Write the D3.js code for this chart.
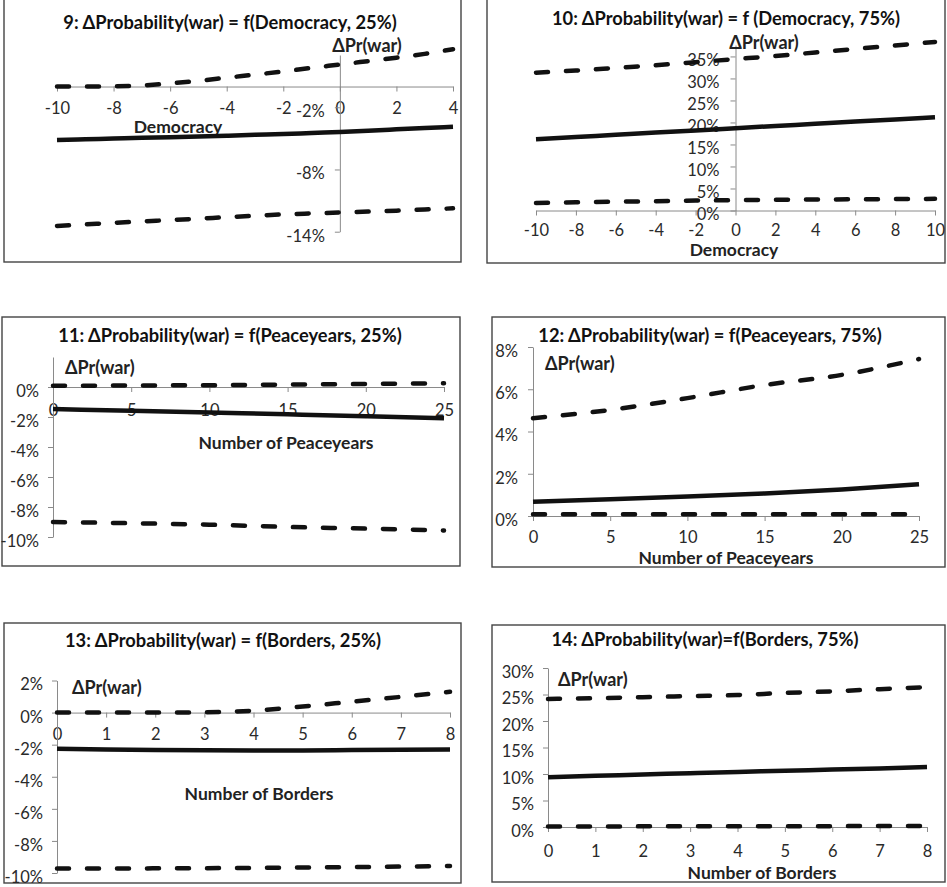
<!DOCTYPE html>
<html><head><meta charset="utf-8">
<script src="https://cdn.jsdelivr.net/npm/d3@7"></script>
<style>body{margin:0;background:#fff}svg{display:block}</style>
</head><body>
<svg id="c" width="947" height="887"></svg>
<script>
// ---------- DATA ----------
const titles = [
  "9: ΔProbability(war) = f(Democracy, 25%)",
  "10: ΔProbability(war) = f (Democracy, 75%)",
  "11: ΔProbability(war) = f(Peaceyears, 25%)",
  "12: ΔProbability(war) = f(Peaceyears, 75%)",
  "13: ΔProbability(war) = f(Borders, 25%)",
  "14: ΔProbability(war)=f(Borders, 75%)"
];
const yAxisTitle = "ΔPr(war)";
const xTitles = ["Democracy", "Democracy", "Number of Peaceyears", "Number of Peaceyears", "Number of Borders", "Number of Borders"];

// Panel 9
const demo9 = [-10,-9,-8,-7,-6,-5,-4,-3,-2,-1,0,1,2,3,4];
const upper9 = [0.0,0.0,0.02,0.1,0.3,0.55,0.85,1.15,1.45,1.8,2.12,2.45,2.78,3.15,3.6];
const effect9 = [-5.15,-5.08,-5.02,-4.95,-4.88,-4.81,-4.74,-4.66,-4.58,-4.48,-4.38,-4.26,-4.13,-4.0,-3.88];
const lower9 = [-13.45,-13.3,-13.15,-13.01,-12.88,-12.74,-12.6,-12.46,-12.33,-12.24,-12.15,-12.06,-11.97,-11.86,-11.75];
const xTicks9 = [-10,-8,-6,-4,-2,0,2,4];
const yTicks9 = [-14,-8,-2];

// Panel 10
const demo10 = [-10,-8,-6,-4,-2,0,2,4,6,8,10];
const upper10 = [31.3,31.8,32.4,33.0,33.7,34.4,35.1,35.9,36.7,37.5,38.3];
const effect10 = [16.2,16.7,17.2,17.7,18.2,18.7,19.2,19.7,20.2,20.7,21.2];
const lower10 = [1.7,1.85,2.0,2.1,2.25,2.35,2.45,2.5,2.55,2.6,2.65];
const xTicks10 = [-10,-8,-6,-4,-2,0,2,4,6,8,10];
const yTicks10 = [0,5,10,15,20,25,30,35];

// Panel 11
const peace11 = [0,5,10,15,20,25];
const upper11 = [0.08,0.1,0.12,0.16,0.2,0.25];
const effect11 = [-1.47,-1.58,-1.7,-1.82,-1.95,-2.09];
const lower11 = [-9.0,-9.08,-9.18,-9.33,-9.44,-9.57];
const xTicks11 = [0,5,10,15,20,25];
const yTicks11 = [-10,-8,-6,-4,-2,0];

// Panel 12
const peace12 = [0,5,10,15,20,25];
const upper12 = [4.63,5.02,5.58,6.2,6.68,7.43];
const effect12 = [0.68,0.79,0.92,1.07,1.26,1.5];
const lower12 = [0.08,0.08,0.08,0.08,0.08,0.08];
const xTicks12 = [0,5,10,15,20,25];
const yTicks12 = [0,2,4,6,8];

// Panel 13
const borders13 = [0,1,2,3,4,5,6,7,8];
const upper13 = [0,0,0,0.02,0.12,0.38,0.68,0.98,1.3];
const effect13 = [-2.26,-2.3,-2.33,-2.35,-2.36,-2.36,-2.34,-2.32,-2.3];
const lower13 = [-9.72,-9.72,-9.71,-9.7,-9.68,-9.66,-9.63,-9.6,-9.56];
const xTicks13 = [0,1,2,3,4,5,6,7,8];
const yTicks13 = [-10,-8,-6,-4,-2,0,2];

// Panel 14
const borders14 = [0,1,2,3,4,5,6,7,8];
const upper14 = [24.15,24.3,24.5,24.7,24.9,25.3,25.6,26.0,26.4];
const effect14 = [9.4,9.65,9.9,10.15,10.4,10.6,10.85,11.05,11.3];
const lower14 = [0.1,0.1,0.12,0.13,0.14,0.15,0.16,0.18,0.2];
const xTicks14 = [0,1,2,3,4,5,6,7,8];
const yTicks14 = [0,5,10,15,20,25,30];

// ---------- LAYOUT ----------
const FONT = "Lato, 'Open Sans', sans-serif";
const svg = d3.select("#c");

const panels = [
  { frame:[4,-2,461,262], titleAt:[230,22], xd:[-10,4], xr:[57,453], yd:[-14,3.04], yr:[231.7,55],
    xs:demo9, series:[upper9,effect9,lower9], xTicks:xTicks9, yTicks:yTicks9, yAxisAtX:0,
    xLabDy:22, yLabDx:15, xTitleAt:[178,126], yTitleAt:[367,45], yTitleAnchor:"middle" },
  { frame:[487,-2,945,263], titleAt:[726,18], xd:[-10,10], xr:[536,935], yd:[0,37.6], yr:[210.5,45],
    xs:demo10, series:[upper10,effect10,lower10], xTicks:xTicks10, yTicks:yTicks10, yAxisAtX:0,
    xLabDy:19.5, yLabDx:16, xTitleAt:[734,249], yTitleAt:[764,42], yTitleAnchor:"middle" },
  { frame:[2,317,460,566], titleAt:[230,335], xd:[0,25], xr:[53,444], yd:[-10,2], yr:[537,357],
    xs:peace11, series:[upper11,effect11,lower11], xTicks:xTicks11, yTicks:yTicks11, yAxisAtX:0,
    xLabDy:23, yLabDx:14, xTitleAt:[286,442], yTitleAt:[65,367], yTitleAnchor:"start" },
  { frame:[492,317,945,567], titleAt:[710,335], xd:[0,25], xr:[533,919], yd:[0,8], yr:[516,347],
    xs:peace12, series:[upper12,effect12,lower12], xTicks:xTicks12, yTicks:yTicks12, yAxisAtX:0,
    xLabDy:21.5, yLabDx:15, xTitleAt:[726,557.5], yTitleAt:[545,363], yTitleAnchor:"start" },
  { frame:[4,623,461,883], titleAt:[223,640], xd:[0,8], xr:[57,450], yd:[-10,2], yr:[873,680.5],
    xs:borders13, series:[upper13,effect13,lower13], xTicks:xTicks13, yTicks:yTicks13, yAxisAtX:0,
    xLabDy:21, yLabDx:14, xTitleAt:[259,793], yTitleAt:[72,687], yTitleAnchor:"start" },
  { frame:[492,625,945,882], titleAt:[705,639], xd:[0,8], xr:[548,927], yd:[0,30], yr:[827,668],
    xs:borders14, series:[upper14,effect14,lower14], xTicks:xTicks14, yTicks:yTicks14, yAxisAtX:0,
    xLabDy:24, yLabDx:14, xTitleAt:[762,872], yTitleAt:[558,679], yTitleAnchor:"start" }
];

const AXIS_COLOR = "#8a8a8a";
const LABEL_COLOR = "#2a2a2a";

panels.forEach((p, i) => {
  const g = svg.append("g");
  const [fx0, fy0, fx1, fy1] = p.frame;
  g.append("rect").attr("x", fx0).attr("y", fy0).attr("width", fx1 - fx0).attr("height", fy1 - fy0)
    .attr("fill", "#fff").attr("stroke", "#444").attr("stroke-width", 1.4);

  const x = d3.scaleLinear().domain(p.xd).range(p.xr);
  const y = d3.scaleLinear().domain(p.yd).range(p.yr);

  const xa = g.append("g").attr("transform", `translate(0,${y(0)})`)
    .call(d3.axisBottom(x).tickValues(p.xTicks).tickSize(5).tickSizeOuter(0).tickFormat(d => String(d)));
  const ya = g.append("g").attr("transform", `translate(${x(p.yAxisAtX)},0)`)
    .call(d3.axisLeft(y).tickValues(p.yTicks).tickSize(5).tickSizeOuter(0).tickFormat(d => d + "%"));

  [xa, ya].forEach(a => {
    a.attr("font-family", FONT).attr("font-size", 16.5);
    a.select(".domain").attr("stroke", AXIS_COLOR).attr("stroke-width", 1);
    a.selectAll(".tick line").attr("stroke", AXIS_COLOR).attr("stroke-width", 1);
    a.selectAll(".tick text").attr("fill", LABEL_COLOR);
  });
  xa.selectAll(".tick text").attr("y", p.xLabDy).attr("dy", "0.36em");
  ya.selectAll(".tick text").attr("x", -p.yLabDx).attr("y", 3.5).attr("dy", "0.36em");

  g.append("text").attr("x", p.titleAt[0]).attr("y", p.titleAt[1]).attr("text-anchor", "middle")
    .attr("dominant-baseline", "central").attr("font-family", FONT).attr("font-weight", "bold")
    .attr("font-size", 18.3).attr("fill", "#111").text(titles[i]);
  g.append("text").attr("x", p.xTitleAt[0]).attr("y", p.xTitleAt[1]).attr("text-anchor", "middle")
    .attr("dominant-baseline", "central").attr("font-family", FONT).attr("font-weight", "bold")
    .attr("font-size", 17.5).attr("fill", "#222").text(xTitles[i]);
  g.append("text").attr("x", p.yTitleAt[0]).attr("y", p.yTitleAt[1]).attr("text-anchor", p.yTitleAnchor)
    .attr("dominant-baseline", "central").attr("font-family", FONT).attr("font-weight", "bold")
    .attr("font-size", 18).attr("fill", "#222").text(yAxisTitle);

  const line = d3.line().x((d, k) => x(p.xs[k])).y(d => y(d)).curve(d3.curveMonotoneX);
  p.series.forEach((s, k) => {
    const path = g.append("path").datum(s).attr("d", line).attr("fill", "none")
      .attr("stroke", "#111").attr("stroke-width", 4.5);
    if (k !== 1) path.attr("stroke-dasharray", "12 18").attr("stroke-linecap", "round");
  });
});
</script>
</body></html>
